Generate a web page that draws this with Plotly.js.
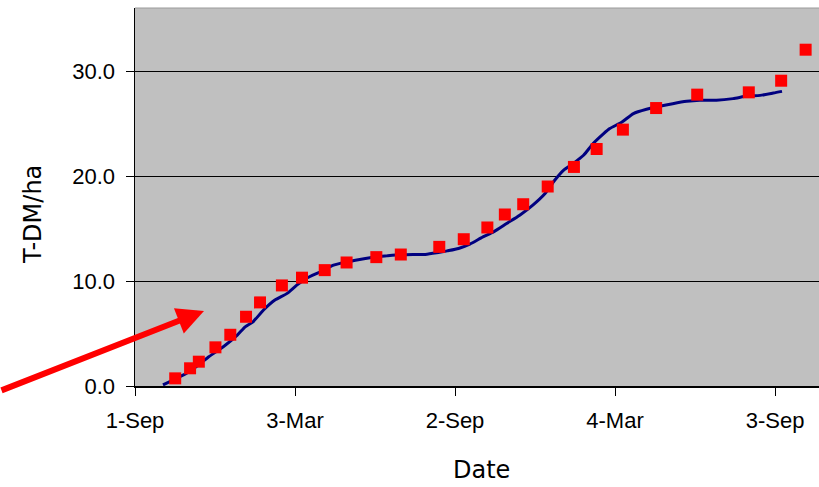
<!DOCTYPE html>
<html>
<head>
<meta charset="utf-8">
<script src="https://cdn.plot.ly/plotly-3.0.1.min.js"></script>
<style>
  html, body { margin: 0; padding: 0; background: #ffffff; overflow: hidden; }
  #chart { width: 819px; height: 487px; }
</style>
</head>
<body>
<div id="chart"></div>
<script>
// Measured samples (red squares)
const sampleDates = [
  '2001-10-17','2001-11-03','2001-11-13','2001-12-02','2001-12-19',
  '2002-01-06','2002-01-22','2002-02-16','2002-03-11','2002-04-06',
  '2002-05-01','2002-06-04','2002-07-02','2002-08-15','2002-09-12',
  '2002-10-09','2002-10-29','2002-11-19','2002-12-17','2003-01-16',
  '2003-02-11','2003-03-13','2003-04-20','2003-06-06','2003-08-04',
  '2003-09-10','2003-10-08'
];
const sampleValues = [
  0.73, 1.69, 2.32, 3.69, 4.89,
  6.61, 7.98, 9.60, 10.34, 11.06,
  11.79, 12.30, 12.55, 13.28, 14.01,
  15.13, 16.37, 17.35, 19.04, 20.91,
  22.62, 24.47, 26.53, 27.81, 28.03,
  29.14, 32.10
];

// Modelled curve (navy line)
const modelDates = [
  '2001-10-03','2001-10-17','2001-10-30','2001-11-11','2001-11-24',
  '2001-12-11','2001-12-27','2002-01-05','2002-01-14','2002-01-26',
  '2002-02-08','2002-02-22','2002-03-05','2002-03-16','2002-04-01',
  '2002-04-16','2002-05-01','2002-05-16','2002-06-04','2002-06-16',
  '2002-07-01','2002-07-16','2002-07-30','2002-08-12','2002-08-24',
  '2002-09-06','2002-09-19','2002-10-04','2002-10-16','2002-10-31',
  '2002-11-15','2002-11-30','2002-12-14','2002-12-25','2003-01-04',
  '2003-01-15','2003-01-27','2003-02-07','2003-02-19','2003-02-26',
  '2003-03-12','2003-03-25','2003-04-09','2003-04-24','2003-05-09',
  '2003-05-25','2003-06-09','2003-06-28','2003-07-17','2003-08-02',
  '2003-08-17','2003-09-01','2003-09-11'
];
const modelValues = [
  0.10, 0.67, 1.21, 1.91, 2.76,
  3.75, 4.86, 5.65, 6.13, 7.25,
  8.20, 8.84, 9.63, 10.27, 10.90,
  11.53, 11.85, 12.08, 12.33, 12.42,
  12.52, 12.56, 12.56, 12.71, 12.90,
  13.13, 13.54, 14.23, 14.71, 15.51,
  16.30, 17.26, 18.37, 19.64, 20.59,
  21.23, 22.02, 23.14, 24.09, 24.57,
  25.20, 26.00, 26.41, 26.70, 26.95,
  27.17, 27.27, 27.27, 27.43, 27.67,
  27.74, 27.96, 28.12
];

const xTickVals = ['2001-09-01','2002-03-03','2002-09-02','2003-03-04','2003-09-03'];
const xTickText = ['1-Sep','3-Mar','2-Sep','4-Mar','3-Sep'];
const yTickVals = [0, 10, 20, 30];
const yTickText = ['0.0','10.0','20.0','30.0'];

const traces = [
  {
    x: modelDates, y: modelValues, type: 'scatter', mode: 'lines',
    line: { color: '#000080', width: 3, shape: 'spline', smoothing: 0.6 },
    hoverinfo: 'skip', showlegend: false
  },
  {
    x: sampleDates, y: sampleValues, type: 'scatter', mode: 'markers',
    marker: { symbol: 'square', size: 12, color: '#FF0000', line: { width: 0 } },
    showlegend: false, cliponaxis: false
  }
];

const tickFont = { family: 'Liberation Sans, Arial, sans-serif', size: 22, color: '#000000' };
const titleFont = { family: 'DejaVu Sans, sans-serif', size: 24, color: '#000000' };

const layout = {
  width: 819, height: 487,
  margin: { l: 135, r: 0, t: 8, b: 101, pad: 0 },
  paper_bgcolor: '#ffffff',
  plot_bgcolor: '#C0C0C0',
  showlegend: false,
  xaxis: {
    type: 'date',
    range: ['2001-09-01', '2003-10-23 07:00'],
    tickmode: 'array', tickvals: xTickVals, ticktext: xTickText,
    ticks: 'outside', ticklen: 8, tickwidth: 1, tickcolor: '#000000',
    showline: true, linecolor: '#000000', linewidth: 1.5,
    showgrid: false, zeroline: false,
    tickfont: tickFont, ticklabelstandoff: 6
  },
  yaxis: {
    range: [0, 36.08],
    tickmode: 'array', tickvals: yTickVals, ticktext: yTickText,
    ticks: 'outside', ticklen: 8, tickwidth: 1, tickcolor: '#000000',
    showline: true, linecolor: '#000000', linewidth: 1.5,
    showgrid: true, gridcolor: '#000000', gridwidth: 1,
    zeroline: false,
    tickfont: tickFont, ticklabelstandoff: 6
  },
  shapes: [
    { type: 'line', xref: 'paper', yref: 'paper', x0: 0, x1: 1, y0: 1, y1: 1,
      line: { color: '#9a9a9a', width: 1 } }
  ],
  annotations: [
    { text: 'Date', xref: 'paper', yref: 'paper', x: (481 - 135) / 684, y: -(486 - 386) / 378,
      xanchor: 'center', yanchor: 'bottom', showarrow: false, font: titleFont },
    { text: 'T-DM/ha', xref: 'paper', yref: 'paper', x: -(135 - 33) / 684, y: (386 - 215) / 378,
      xanchor: 'center', yanchor: 'middle', textangle: -90, showarrow: false, font: titleFont },
    { text: '', xref: 'paper', yref: 'paper', x: (204 - 135) / 684, y: (386 - 311) / 378,
      showarrow: true, ax: -216, ay: 80, arrowcolor: '#FF0000', arrowwidth: 6,
      arrowhead: 2, arrowsize: 0.9, standoff: 0 }
  ]
};

Plotly.newPlot('chart', traces, layout, { displayModeBar: false, staticPlot: true });
</script>
</body>
</html>
